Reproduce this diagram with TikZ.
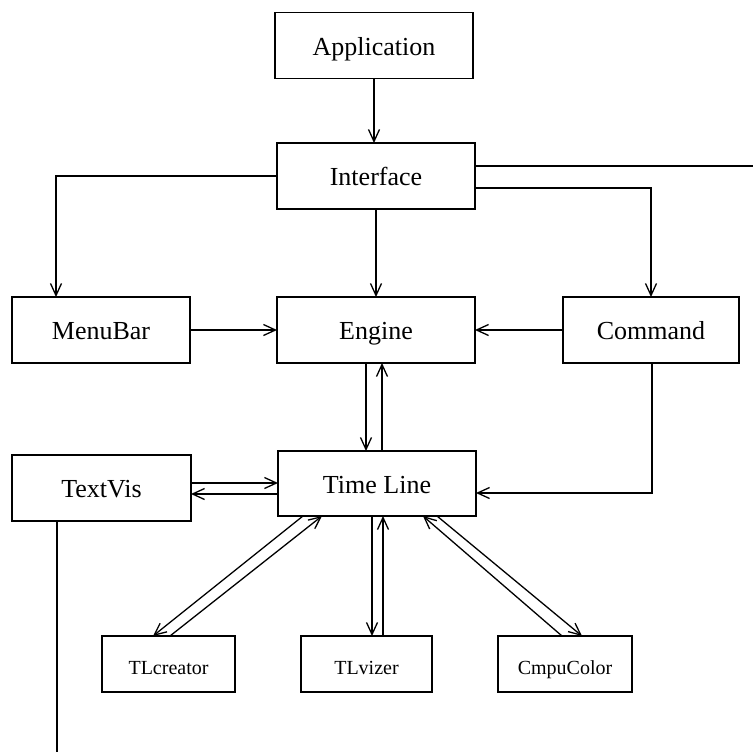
\documentclass[tikz,border=0pt]{standalone}
\usepackage{fontspec}
\setmainfont{Liberation Serif}
\usetikzlibrary{arrows.meta,calc}
\tikzset{
  box/.style={draw,line width=1.3pt,rectangle,inner sep=0pt,outer sep=0pt,minimum height=66pt,text height=19pt,text depth=0pt,font=\fontsize{26}{30}\selectfont},
  smallbox/.style={draw,line width=1.3pt,rectangle,inner sep=0pt,outer sep=0pt,minimum height=56pt,text height=20pt,text depth=0pt,font=\fontsize{20}{24}\selectfont},
  conn/.style={line width=1.3pt},
  arr/.style={conn,-{Straight Barb[length=12pt,width=11pt,line width=1.3pt]}}
}
\begin{document}
\begin{tikzpicture}[x=1pt,y=-1pt]
\useasboundingbox (0,0) rectangle (753,755);
\node[box,minimum width=198pt] (app) at (374,45.5) {Application};
\node[box,minimum width=198pt] (iface) at (376,176) {Interface};
\node[box,minimum width=178pt] (menubar) at (101,330) {MenuBar};
\node[box,minimum width=198pt] (engine) at (376,330) {Engine};
\node[box,minimum width=176pt] (command) at (651,330) {Command};
\node[box,minimum width=179pt] (textvis) at (101.5,488) {TextVis};
\node[box,minimum width=198pt,minimum height=65pt] (timeline) at (377,483.5) {Time Line};
\node[smallbox,minimum width=133pt] (tlcreator) at (168.5,664) {TLcreator};
\node[smallbox,minimum width=131pt] (tlvizer) at (366.5,664) {TLvizer};
\node[smallbox,minimum width=134pt] (cmpucolor) at (565,664) {CmpuColor};
\coordinate (rightend) at (753,166);
\coordinate (bottomend) at (57,752);

% top
\draw[arr] (app.south) -- (app.south |- iface.north);
\draw[arr] (iface.west) -| ([xshift=-45pt]menubar.north);
\draw[arr] (iface.south) -- (engine.north);
\draw[arr] ([yshift=-12pt]iface.east) -| (command.north);
\draw[conn] ([yshift=10pt]iface.east) -- (rightend);
% middle row
\draw[arr] (menubar.east) -- (engine.west);
\draw[arr] (command.west) -- (engine.east);
\draw[arr] ([xshift=-10pt]engine.south) -- ([xshift=-10pt]engine.south |- timeline.north);
\draw[arr] ([xshift=6pt]engine.south |- timeline.north) -- ([xshift=6pt]engine.south);
% TextVis <-> Time Line
\draw[arr] ([yshift=5pt]textvis.east) -- ([yshift=5pt]textvis.east -| timeline.west);
\draw[arr] ([yshift=-6pt]textvis.east -| timeline.west) -- ([yshift=-6pt]textvis.east);
% Command -> Time Line
\draw[arr] ([xshift=1pt]command.south) |- ([yshift=-9.5pt]timeline.east);
% TextVis down
\draw[conn] ([xshift=-44.5pt]textvis.south) -- (bottomend);
% Time Line <-> TLcreator
\draw[arr] ([xshift=-74pt]timeline.south) -- ([xshift=-15.5pt]tlcreator.north);
\draw[arr] ([xshift=1.5pt]tlcreator.north) -- ([xshift=-55pt]timeline.south);
% Time Line <-> TLvizer
\draw[arr] ([xshift=-5pt]timeline.south) -- ([xshift=-5pt]timeline.south |- tlvizer.north);
\draw[arr] ([xshift=6pt]timeline.south |- tlvizer.north) -- ([xshift=6pt]timeline.south);
% Time Line <-> CmpuColor
\draw[arr] ([xshift=-3pt]cmpucolor.north) -- ([xshift=46pt]timeline.south);
\draw[arr] ([xshift=60pt]timeline.south) -- ([xshift=17pt]cmpucolor.north);
\end{tikzpicture}
\end{document}
